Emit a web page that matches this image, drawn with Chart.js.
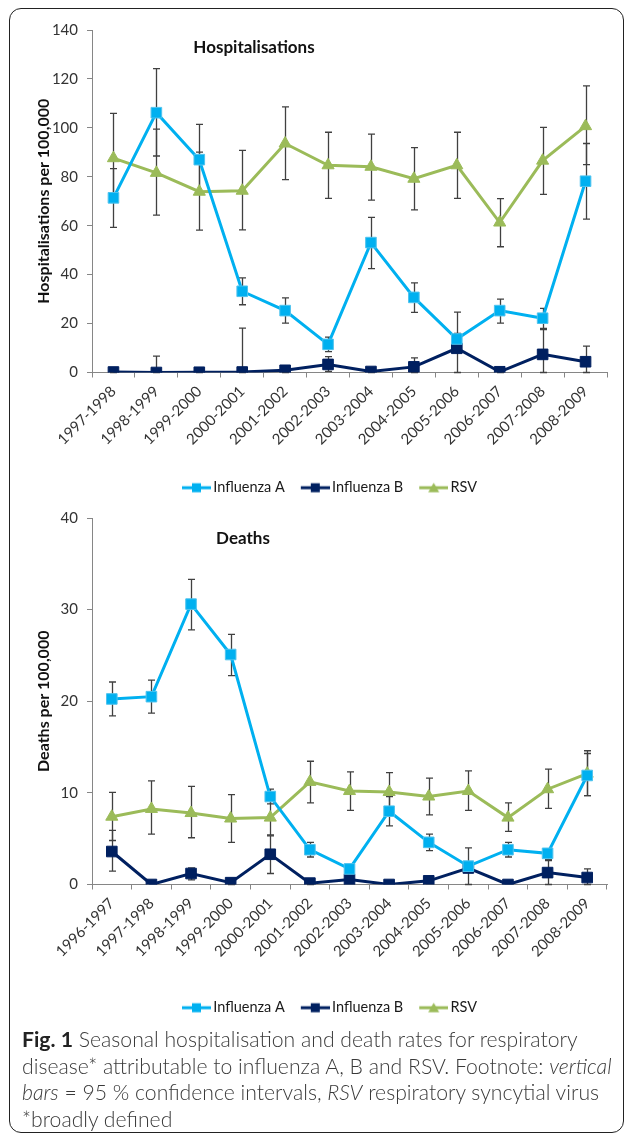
<!DOCTYPE html>
<html>
<head>
<meta charset="utf-8">
<script src="https://cdn.jsdelivr.net/npm/chart.js@4"></script>
<style>
  html, body { margin: 0; padding: 0; background: #fff; overflow: hidden; }
  body { width: 627px; height: 1138px; position: relative; font-family: Lato, sans-serif; }
  #frame {
    position: absolute; left: 9px; top: 8px; width: 613px; height: 1123px;
    border: 1.5px solid #222; border-radius: 12px;
  }
  .chartBox { position: absolute; left: 10px; width: 607px; }
  #hospBox { top: 10px; height: 495px; }
  #deathBox { top: 500px; height: 525px; }
  #caption {
    position: absolute; left: 22px; top: 1026px; width: 605px;
    font-size: 21.2px; font-weight: 300; line-height: 26.7px; color: #3a3a3a;
    white-space: nowrap;
  }
  #caption b { color: #222; font-weight: 700; }
</style>
</head>
<body>
<div id="frame"></div>
<div class="chartBox" id="hospBox"><canvas id="hospChart"></canvas></div>
<div class="chartBox" id="deathBox"><canvas id="deathChart"></canvas></div>
<div id="caption">
  <b>Fig. 1</b> Seasonal hospitalisation and death rates for respiratory<br>
  disease* attributable to influenza A, B and RSV. Footnote: <i>vertical</i><br>
  <i>bars</i> = 95 % confidence intervals, <i>RSV</i> respiratory syncytial virus<br>
  *broadly defined
</div>

<script>
// Hospitalisations per 100,000
const seasonsHosp = ['1997-1998', '1998-1999', '1999-2000', '2000-2001', '2001-2002', '2002-2003',
  '2003-2004', '2004-2005', '2005-2006', '2006-2007', '2007-2008', '2008-2009'];
const hospFluA   = [71.4, 106.2, 87.0, 33.2, 25.3, 11.5, 53.1, 30.7, 13.7, 25.3, 22.2, 78.2];
const hospFluALo = [59.3, 88.5, 73.0, 27.7, 20.2, 8.5, 42.5, 24.6, 11.5, 20.2, 18.0, 62.7];
const hospFluAHi = [83.3, 124.2, 101.4, 38.7, 30.5, 14.5, 63.4, 36.6, 16.0, 30.0, 26.2, 93.6];
const hospFluB   = [0.2, 0, 0.1, 0.2, 0.9, 3.3, 0.4, 2.3, 9.9, 0.3, 7.4, 4.4];
const hospFluBLo = [0, 0, 0, 0, 0, 0.5, 0, 0, 0, 0, 0, 0];
const hospFluBHi = [0.4, 6.7, 1.4, 18.1, 2.0, 6.5, 1.0, 6.0, 24.7, 0.8, 17.5, 10.8];
const hospRSV    = [87.6, 81.6, 73.9, 74.3, 93.6, 84.7, 84.1, 79.2, 84.7, 61.3, 86.6, 100.7];
const hospRSVLo  = [69.5, 64.3, 58.2, 58.3, 78.8, 71.2, 70.5, 66.5, 71.2, 51.4, 72.8, 85.0];
const hospRSVHi  = [105.9, 99.5, 90.1, 90.8, 108.6, 98.2, 97.4, 91.9, 98.2, 71.1, 100.2, 117.2];

// Deaths per 100,000
const seasonsDeaths = ['1996-1997', '1997-1998', '1998-1999', '1999-2000', '2000-2001', '2001-2002',
  '2002-2003', '2003-2004', '2004-2005', '2005-2006', '2006-2007', '2007-2008', '2008-2009'];
const deathFluA   = [20.25, 20.5, 30.6, 25.1, 9.6, 3.8, 1.7, 8.0, 4.6, 2.0, 3.8, 3.4, 11.9];
const deathFluALo = [18.4, 18.7, 27.8, 22.8, 8.8, 3.0, 1.3, 6.4, 3.7, 1.6, 3.0, 2.6, 9.7];
const deathFluAHi = [22.1, 22.3, 33.3, 27.3, 10.4, 4.6, 2.1, 9.6, 5.5, 2.4, 4.6, 3.9, 14.6];
const deathFluB   = [3.6, 0, 1.2, 0.2, 3.3, 0.15, 0.55, 0, 0.4, 1.8, 0, 1.3, 0.76];
const deathFluBLo = [1.45, 0, 0.5, 0, 1.2, 0, 0.2, 0, 0.1, 0, 0, 0, 0];
const deathFluBHi = [5.9, 0, 1.8, 0.4, 5.3, 0.3, 0.9, 0, 0.7, 4.0, 0, 2.7, 1.7];
const deathRSV    = [7.4, 8.25, 7.8, 7.2, 7.3, 11.2, 10.2, 10.1, 9.6, 10.2, 7.3, 10.4, 12.1];
const deathRSVLo  = [4.8, 5.5, 5.1, 4.6, 5.4, 8.9, 8.1, 8.0, 7.6, 8.1, 5.8, 8.3, 9.7];
const deathRSVHi  = [10.05, 11.3, 10.7, 9.8, 9.2, 13.45, 12.3, 12.2, 11.6, 12.4, 8.9, 12.6, 14.3];

const COL_A = '#00b0f0';
const COL_B = '#002060';
const COL_RSV = '#9bbb59';
const AXIS = '#868686';
const TEXT = '#333333';

// vertical confidence bars, drawn under the lines
const errorBars = {
  id: 'errorBars',
  beforeDatasetsDraw(chart) {
    const ctx = chart.ctx;
    const yScale = chart.scales.y;
    ctx.save();
    ctx.strokeStyle = '#404040';
    ctx.lineWidth = 1.3;
    chart.data.datasets.forEach((ds, i) => {
      const meta = chart.getDatasetMeta(i);
      meta.data.forEach((pt, j) => {
        const lo = ds.errLow[j], hi = ds.errHigh[j];
        if (hi - lo <= 0) return;
        const x = Math.round(pt.x) + 0.5;
        const yl = yScale.getPixelForValue(lo);
        const yh = yScale.getPixelForValue(hi);
        ctx.beginPath();
        ctx.moveTo(x, yl); ctx.lineTo(x, yh);
        ctx.moveTo(x - 3.5, yh); ctx.lineTo(x + 3.5, yh);
        ctx.moveTo(x - 3.5, yl); ctx.lineTo(x + 3.5, yl);
        ctx.stroke();
      });
    });
    ctx.restore();
  }
};

// title sitting inside the plot area
const innerTitle = {
  id: 'innerTitle',
  afterDraw(chart, args, opts) {
    const ctx = chart.ctx;
    ctx.save();
    ctx.font = 'bold 17px Lato';
    ctx.fillStyle = '#111';
    ctx.textAlign = 'center';
    ctx.textBaseline = 'middle';
    ctx.fillText(opts.text, chart.chartArea.left + opts.dx, chart.chartArea.top + opts.dy);
    ctx.restore();
  }
};

// nudge the legend sideways after layout
const legendShift = {
  id: 'legendShift',
  afterLayout(chart, args, opts) {
    if (chart.legend) {
      chart.legend.left += opts.dx;
      chart.legend.right += opts.dx;
    }
  }
};

function legendMark(color, shape) {
  const c = document.createElement('canvas');
  c.width = 34; c.height = 14;
  const g = c.getContext('2d');
  g.strokeStyle = color;
  g.lineWidth = 3;
  g.beginPath(); g.moveTo(5, 7); g.lineTo(34, 7); g.stroke();
  g.fillStyle = color;
  if (shape === 'triangle') {
    g.beginPath(); g.moveTo(19.5, 2); g.lineTo(25, 11.5); g.lineTo(14, 11.5); g.closePath(); g.fill();
  } else {
    g.fillRect(15, 2.5, 9, 9);
  }
  return c;
}
const legendMarks = [legendMark(COL_A, 'rect'), legendMark(COL_B, 'rect'), legendMark(COL_RSV, 'triangle')];

function makeDatasets(a, aLo, aHi, b, bLo, bHi, r, rLo, rHi) {
  return [
    { label: 'Influenza A', data: a, errLow: aLo, errHigh: aHi,
      borderColor: COL_A, backgroundColor: COL_A, pointBorderColor: '#4fc3ee',
      pointStyle: 'rect', pointRadius: 7.5, pointBorderWidth: 1, borderWidth: 3 },
    { label: 'Influenza B', data: b, errLow: bLo, errHigh: bHi,
      borderColor: COL_B, backgroundColor: COL_B, pointBorderColor: COL_B,
      pointStyle: 'rect', pointRadius: 7.5, pointBorderWidth: 1, borderWidth: 3 },
    { label: 'RSV', data: r, errLow: rLo, errHigh: rHi,
      borderColor: COL_RSV, backgroundColor: COL_RSV, pointBorderColor: COL_RSV,
      pointStyle: 'triangle', pointRadius: 7, pointBorderWidth: 1, borderWidth: 3 }
  ];
}

function makeOptions(yTitle, yMax, yStep, titleText, tdx, tdy, padTop, xHeight) {
  return {
    responsive: true,
    maintainAspectRatio: false,
    animation: false,
    layout: { padding: { left: 20, right: 10, top: padTop, bottom: 0 } },
    elements: { line: { tension: 0 } },
    plugins: {
      tooltip: { enabled: false },
      innerTitle: { text: titleText, dx: tdx, dy: tdy },
      legendShift: { dx: 11 },
      legend: {
        position: 'bottom',
        labels: {
          usePointStyle: true,
          pointStyleWidth: 24,
          padding: 16,
          color: '#1a1a1a',
          font: { family: 'Lato', size: 14.5 },
          generateLabels(chart) {
            const items = Chart.defaults.plugins.legend.labels.generateLabels(chart);
            return items.map((it, i) => Object.assign(it, { pointStyle: legendMarks[i] }));
          }
        }
      }
    },
    scales: {
      x: {
        offset: true,
        afterFit(scale) { scale.height = xHeight; },
        grid: { offset: true, drawOnChartArea: false, drawTicks: true, tickLength: 5, color: AXIS },
        border: { color: AXIS },
        ticks: { color: TEXT, minRotation: 45, maxRotation: 45, padding: 5,
          font: { family: 'Lato', size: 15 } }
      },
      y: {
        min: 0, max: yMax,
        afterFit(scale) { scale.width = 62; },
        grid: { drawOnChartArea: false, drawTicks: true, tickLength: 5, color: AXIS },
        border: { color: AXIS },
        ticks: { stepSize: yStep, color: TEXT, padding: 9, font: { family: 'Lato', size: 15 } },
        title: { display: true, text: yTitle, color: '#111',
          font: { family: 'Lato', size: 16, weight: 'bold' }, padding: { top: 4, bottom: 4 } }
      }
    }
  };
}

new Chart(document.getElementById('hospChart'), {
  type: 'line',
  data: {
    labels: seasonsHosp,
    datasets: makeDatasets(hospFluA, hospFluALo, hospFluAHi, hospFluB, hospFluBLo, hospFluBHi,
      hospRSV, hospRSVLo, hospRSVHi)
  },
  options: makeOptions('Hospitalisations per 100,000', 140, 20, 'Hospitalisations', 162, 18, 20, 92),
  plugins: [errorBars, innerTitle, legendShift]
});

new Chart(document.getElementById('deathChart'), {
  type: 'line',
  data: {
    labels: seasonsDeaths,
    datasets: makeDatasets(deathFluA, deathFluALo, deathFluAHi, deathFluB, deathFluBLo, deathFluBHi,
      deathRSV, deathRSVLo, deathRSVHi)
  },
  options: makeOptions('Deaths per 100,000', 40, 10, 'Deaths', 151, 21, 14, 100),
  plugins: [errorBars, innerTitle, legendShift]
});
</script>
</body>
</html>
